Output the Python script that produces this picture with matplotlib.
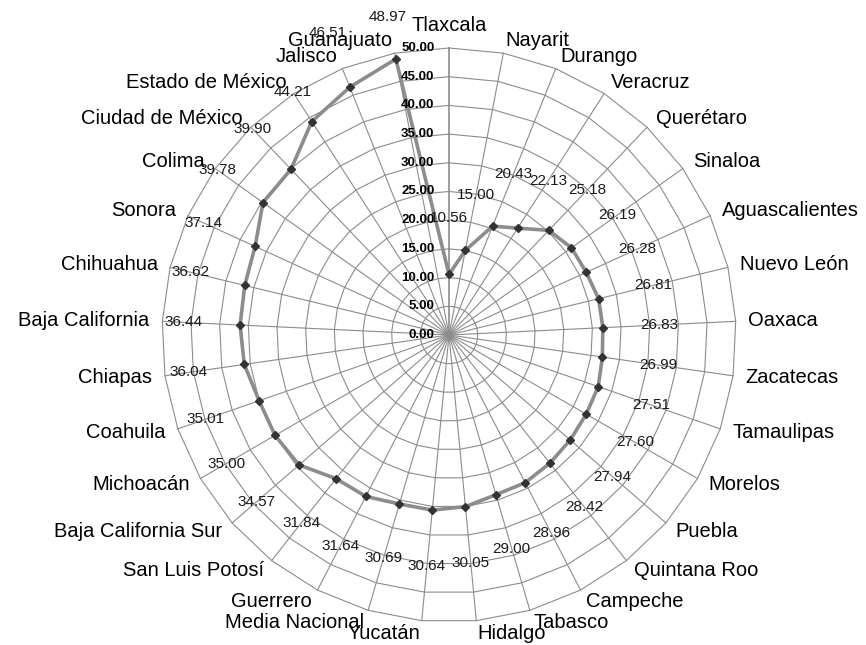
import numpy as np
import matplotlib
matplotlib.use('Agg')
import matplotlib.pyplot as plt

estados = ['Tlaxcala', 'Nayarit', 'Durango', 'Veracruz', 'Querétaro', 'Sinaloa',
           'Aguascalientes', 'Nuevo León', 'Oaxaca', 'Zacatecas', 'Tamaulipas',
           'Morelos', 'Puebla', 'Quintana Roo', 'Campeche', 'Tabasco', 'Hidalgo',
           'Yucatán', 'Media Nacional', 'Guerrero', 'San Luis Potosí',
           'Baja California Sur', 'Michoacán', 'Coahuila', 'Chiapas',
           'Baja California', 'Chihuahua', 'Sonora', 'Colima', 'Ciudad de México',
           'Estado de México', 'Jalisco', 'Guanajuato']
valores = [10.56, 15.00, 20.43, 22.13, 25.18, 26.19,
           26.28, 26.81, 26.83, 26.99, 27.51,
           27.60, 27.94, 28.42, 28.96, 29.00, 30.05,
           30.64, 30.69, 31.64, 31.84,
           34.57, 35.00, 35.01, 36.04,
           36.44, 36.62, 37.14, 39.78, 39.90,
           44.21, 46.51, 48.97]
niveles = np.arange(0, 55, 5)

# radio de algunas etiquetas de datos que no caben fuera del circulo
r_etiqueta = {'Estado de México': 50.4, 'Jalisco': 56.7, 'Guanajuato': 56.4}

plt.rcParams['font.family'] = ['Liberation Sans', 'DejaVu Sans']

fig = plt.figure(figsize=(8.66, 6.45), dpi=100)
ax = fig.add_axes([0.1871, 0.0357, 0.6628, 0.8899], projection='polar')
ax.set_theta_zero_location('N')
ax.set_theta_direction(-1)
ax.set_ylim(0, 50)
ax.grid(False)
ax.set_xticks([])
ax.set_yticks([])
ax.spines['polar'].set_visible(False)

n = len(estados)
ang = np.linspace(0, 2 * np.pi, n, endpoint=False)
ang_c = np.append(ang, ang[0])

gris = '#8c8c8c'
# rejilla poligonal y radios
for nv in niveles[1:]:
    ax.plot(ang_c, [nv] * (n + 1), color=gris, lw=0.8, zorder=1, clip_on=False)
for i, a in enumerate(ang):
    ax.plot([a, a], [0, 50], color=gris, lw=1.2 if i == 0 else 0.8, zorder=1, clip_on=False)

# serie
ax.plot(ang_c, np.append(valores, valores[0]), color='#8c8c8c', lw=2.6, zorder=3)
ax.plot(ang, valores, ls='none', marker='D', ms=3.6, color='#333333', zorder=4)

# etiquetas del eje de valores
for nv in niveles:
    ax.annotate(f'{nv:.2f}', xy=(0, nv), xytext=(-10.5, 0), textcoords='offset points',
                ha='right', va='center', fontsize=9.5, fontweight='bold', color='black')

# etiquetas de datos
for est, a, v in zip(estados, ang, valores):
    r = r_etiqueta.get(est, v + 9.8)
    ax.text(a, r, f'{v:.2f}', ha='center', va='center', fontsize=11, color='#1a1a1a', zorder=5)

# nombres de categorias
for est, a in zip(estados, ang):
    s, c = np.sin(a), np.cos(a)
    ha = 'left' if s > 0.05 else ('right' if s < -0.05 else 'center')
    va = 'bottom' if c > 0.99 else 'center'
    ax.text(a, 52.2, est, ha=ha, va=va, fontsize=14.5, color='black', clip_on=False)

fig.savefig('out.png', dpi=100)
